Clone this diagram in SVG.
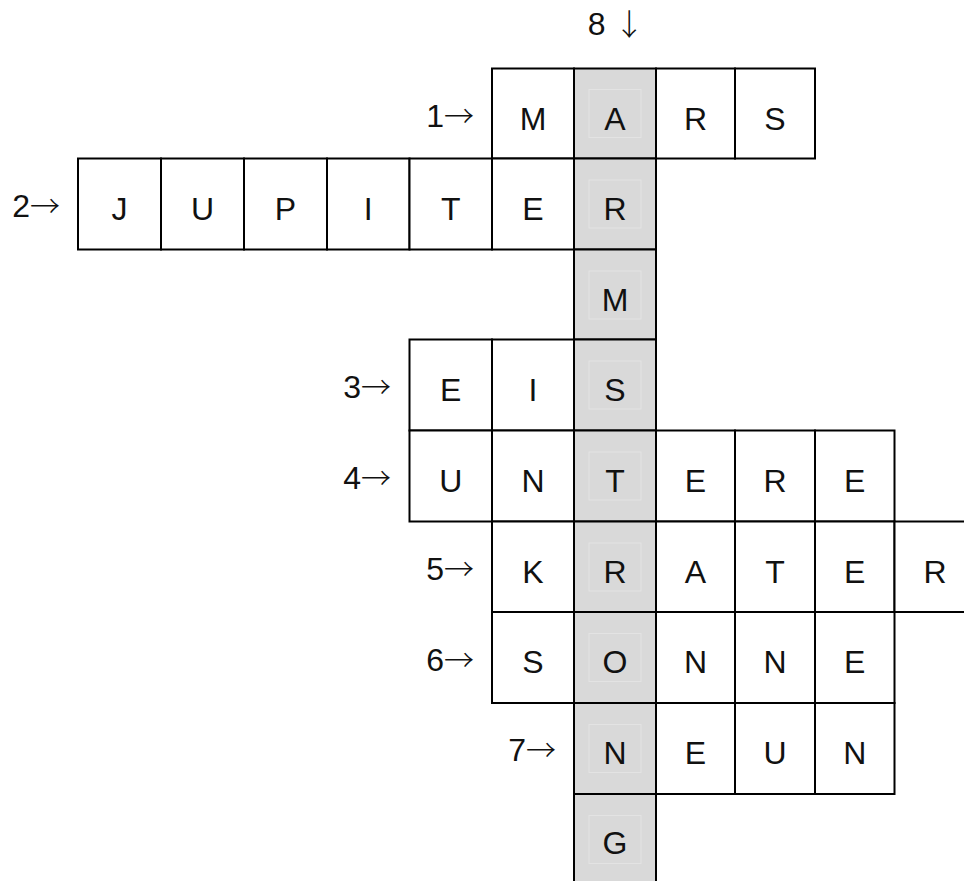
<svg xmlns="http://www.w3.org/2000/svg" width="964" height="881" viewBox="0 0 964 881">
<style>
.c{fill:#fff;stroke:#000;stroke-width:2}
.g{fill:#d9d9d9;stroke:#000;stroke-width:2}
.f{fill:none;stroke:#e3e3e3;stroke-width:1}
text{font-family:"Liberation Sans",Arial,sans-serif;font-size:32px;fill:#111}
.t{text-anchor:middle}
.l{text-anchor:end}
.a{font-family:"Noto Sans CJK SC","Noto Sans CJK JP",sans-serif;font-weight:300;font-size:30px}
</style>
<rect width="964" height="881" fill="#fff"/>
<g id="word1">
<rect class="c" x="492" y="68.5" width="82" height="90"/>
<rect class="c" x="656" y="68.5" width="79" height="90"/>
<rect class="c" x="735" y="68.5" width="80" height="90"/>
<text class="l" x="474" y="127">1<tspan class="a">→</tspan></text>
<text class="t" x="533" y="129.5">M</text>
<text class="t" x="695.5" y="129.5">R</text>
<text class="t" x="775" y="129.5">S</text>
</g>
<g id="word2">
<rect class="c" x="78" y="158.5" width="83" height="91"/>
<rect class="c" x="161" y="158.5" width="83" height="91"/>
<rect class="c" x="244" y="158.5" width="83" height="91"/>
<rect class="c" x="327" y="158.5" width="82.5" height="91"/>
<rect class="c" x="409.5" y="158.5" width="82.5" height="91"/>
<rect class="c" x="492" y="158.5" width="82" height="91"/>
<text class="l" x="60" y="217">2<tspan class="a">→</tspan></text>
<text class="t" x="119.5" y="219.5">J</text>
<text class="t" x="202.5" y="219.5">U</text>
<text class="t" x="285.5" y="219.5">P</text>
<text class="t" x="368.25" y="219.5">I</text>
<text class="t" x="450.75" y="219.5">T</text>
<text class="t" x="533" y="219.5">E</text>
</g>
<g id="word3">
<rect class="c" x="409.5" y="339.5" width="82.5" height="91"/>
<rect class="c" x="492" y="339.5" width="82" height="91"/>
<text class="l" x="391" y="398">3<tspan class="a">→</tspan></text>
<text class="t" x="450.75" y="400.5">E</text>
<text class="t" x="533" y="400.5">I</text>
</g>
<g id="word4">
<rect class="c" x="409.5" y="430.5" width="82.5" height="91"/>
<rect class="c" x="492" y="430.5" width="82" height="91"/>
<rect class="c" x="656" y="430.5" width="79" height="91"/>
<rect class="c" x="735" y="430.5" width="80" height="91"/>
<rect class="c" x="815" y="430.5" width="79.5" height="91"/>
<text class="l" x="391" y="489">4<tspan class="a">→</tspan></text>
<text class="t" x="450.75" y="491.5">U</text>
<text class="t" x="533" y="491.5">N</text>
<text class="t" x="695.5" y="491.5">E</text>
<text class="t" x="775" y="491.5">R</text>
<text class="t" x="854.75" y="491.5">E</text>
</g>
<g id="word5">
<rect class="c" x="492" y="521.5" width="82" height="90.5"/>
<rect class="c" x="656" y="521.5" width="79" height="90.5"/>
<rect class="c" x="735" y="521.5" width="80" height="90.5"/>
<rect class="c" x="815" y="521.5" width="79.5" height="90.5"/>
<rect class="c" x="894.5" y="521.5" width="80.5" height="90.5"/>
<text class="l" x="474" y="580">5<tspan class="a">→</tspan></text>
<text class="t" x="533" y="582.5">K</text>
<text class="t" x="695.5" y="582.5">A</text>
<text class="t" x="775" y="582.5">T</text>
<text class="t" x="854.75" y="582.5">E</text>
<text class="t" x="935" y="582.5">R</text>
</g>
<g id="word6">
<rect class="c" x="492" y="612" width="82" height="91"/>
<rect class="c" x="656" y="612" width="79" height="91"/>
<rect class="c" x="735" y="612" width="80" height="91"/>
<rect class="c" x="815" y="612" width="79.5" height="91"/>
<text class="l" x="474" y="670.5">6<tspan class="a">→</tspan></text>
<text class="t" x="533" y="673">S</text>
<text class="t" x="695.5" y="673">N</text>
<text class="t" x="775" y="673">N</text>
<text class="t" x="854.75" y="673">E</text>
</g>
<g id="word7">
<rect class="c" x="656" y="703" width="79" height="91"/>
<rect class="c" x="735" y="703" width="80" height="91"/>
<rect class="c" x="815" y="703" width="79.5" height="91"/>
<text class="l" x="556" y="761">7<tspan class="a">→</tspan></text>
<text class="t" x="695.5" y="764">E</text>
<text class="t" x="775" y="764">U</text>
<text class="t" x="854.75" y="764">N</text>
</g>
<g id="word8">
<rect class="g" x="574" y="68.5" width="82" height="90"/>
<rect class="g" x="574" y="158.5" width="82" height="91"/>
<rect class="g" x="574" y="249.5" width="82" height="90"/>
<rect class="g" x="574" y="339.5" width="82" height="91"/>
<rect class="g" x="574" y="430.5" width="82" height="91"/>
<rect class="g" x="574" y="521.5" width="82" height="90.5"/>
<rect class="g" x="574" y="612" width="82" height="91"/>
<rect class="g" x="574" y="703" width="82" height="91"/>
<rect class="g" x="574" y="794" width="82" height="100"/>
<rect class="f" x="589" y="89.5" width="52" height="48"/>
<rect class="f" x="589" y="180" width="52" height="48"/>
<rect class="f" x="589" y="271" width="52" height="48"/>
<rect class="f" x="589" y="361" width="52" height="48"/>
<rect class="f" x="589" y="452" width="52" height="48"/>
<rect class="f" x="589" y="543" width="52" height="48"/>
<rect class="f" x="589" y="633.5" width="52" height="48"/>
<rect class="f" x="589" y="724.5" width="52" height="48"/>
<rect class="f" x="589" y="815.5" width="52" height="48"/>
<text class="t" x="616" y="35">8 <tspan class="a">↓</tspan></text>
<text class="t" x="615" y="129.5">A</text>
<text class="t" x="615" y="219.5">R</text>
<text class="t" x="615" y="310.5">M</text>
<text class="t" x="615" y="400.5">S</text>
<text class="t" x="615" y="491.5">T</text>
<text class="t" x="615" y="582.5">R</text>
<text class="t" x="615" y="673">O</text>
<text class="t" x="615" y="764">N</text>
<text class="t" x="615" y="854">G</text>
</g>
</svg>
